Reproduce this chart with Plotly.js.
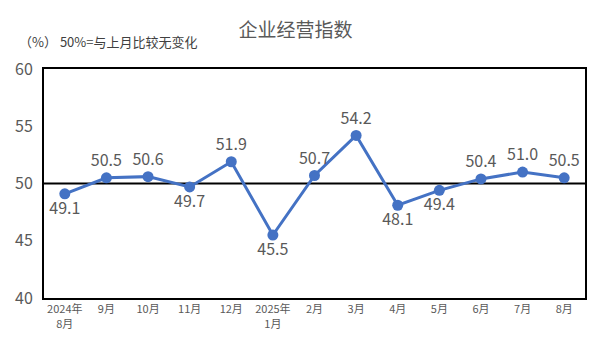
<!DOCTYPE html>
<html><head><meta charset="utf-8">
<script src="https://cdn.plot.ly/plotly-3.0.1.min.js"></script>
<style>body{margin:0;background:#fff}#c{width:591px;height:354px}</style>
</head><body><div id="c"></div>
<script>
const months = ["2024年<br>8月","9月","10月","11月","12月","2025年<br>1月","2月","3月","4月","5月","6月","7月","8月"];
const values = [49.1,50.5,50.6,49.7,51.9,45.5,50.7,54.2,48.1,49.4,50.4,51.0,50.5];
const labelPos = ["bottom center","top center","top center","bottom center","top center","bottom center","top center","top center","bottom center","bottom center","top center","top center","top center"];
const yTicks = [40,45,50,55,60];
const font = '"Noto Sans CJK SC", "Noto Sans", sans-serif';
const x = months.map((_, i) => i);
Plotly.newPlot('c', [{
  x: x, y: values, type: 'scatter', mode: 'lines+markers+text',
  text: values.map(v => v.toFixed(1)), textposition: labelPos,
  textfont: {size: 16, color: '#595959', family: font},
  line: {color: '#4472C4', width: 3},
  marker: {color: '#4472C4', size: 11},
  cliponaxis: false, hoverinfo: 'none'
}], {
  width: 591, height: 354,
  margin: {l: 44, r: 6, t: 69, b: 56},
  paper_bgcolor: '#fff', plot_bgcolor: '#fff',
  showlegend: false,
  title: {text: '企业经营指数', x: 0.5, xanchor: 'center', y: 0.915, yanchor: 'middle',
          font: {size: 19, color: '#595959', family: font}},
  xaxis: {type: 'linear', range: [-0.5, 12.5], tickvals: x, ticktext: months,
          showgrid: false, zeroline: false, showline: true, mirror: true, linecolor: '#000', linewidth: 2,
          ticks: '', tickfont: {size: 11, color: '#595959', family: font}},
  yaxis: {range: [40, 60], tickvals: yTicks, showgrid: false, zeroline: false,
          showline: true, mirror: true, linecolor: '#000', linewidth: 2, ticks: '',
          tickfont: {size: 16, color: '#595959', family: font}, ticklabelstandoff: 6},
  shapes: [{type: 'line', xref: 'paper', x0: 0, x1: 1, yref: 'y', y0: 50, y1: 50,
            line: {color: '#000', width: 2}, layer: 'below'}],
  annotations: [{text: '（%） 50%=与上月比较无变化', xref: 'paper', yref: 'paper', x: -0.05, y: 1.12,
                 xanchor: 'left', yanchor: 'middle', showarrow: false,
                 font: {size: 13, color: '#404040', family: font}}]
}, {displayModeBar: false, staticPlot: true});
</script></body></html>
